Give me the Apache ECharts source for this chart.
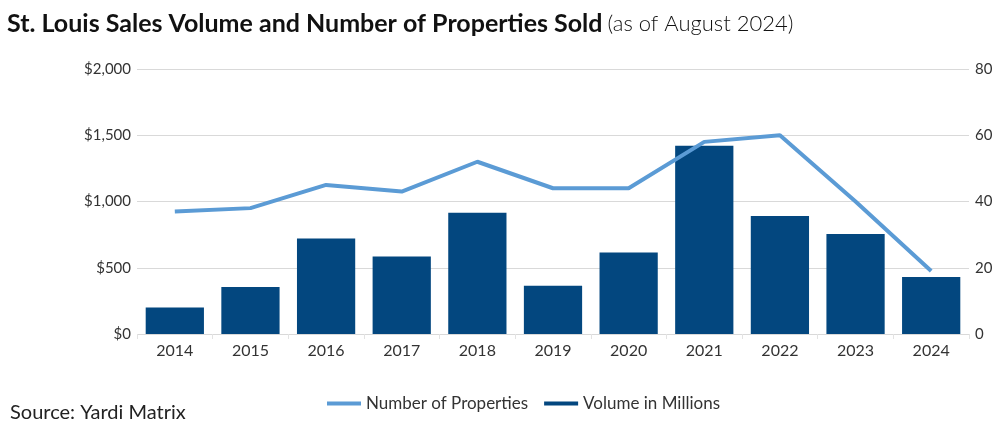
<!DOCTYPE html>
<html>
<head>
<meta charset="utf-8">
<script src="https://cdn.jsdelivr.net/npm/echarts@6/dist/echarts.min.js"></script>
<style>
  html, body { margin: 0; padding: 0; background: #fff; }
  #main { width: 1007px; height: 433px; }
</style>
</head>
<body>
<div id="main"></div>
<script>
var years = ['2014', '2015', '2016', '2017', '2018', '2019', '2020', '2021', '2022', '2023', '2024'];
// sales volume, $ millions
var volume = [200, 355, 720, 585, 915, 365, 615, 1420, 890, 755, 430];
// number of properties sold
var properties = [37, 38, 45, 43, 52, 44, 44, 58, 60, 40, 19];

var chart = echarts.init(document.getElementById('main'));
var font = 'Lato';

var option = {
  animation: false,
  color: ['#5b9bd5', '#03477f'],
  title: {
    left: 2,
    top: 6,
    text: '{b|St. Louis Sales Volume and Number of Properties Sold} {n|(as of August 2024)}',
    textStyle: {
      rich: {
        b: { fontFamily: font, fontWeight: 'bold', fontSize: 25, color: '#111' },
        n: { fontFamily: font, fontWeight: 300, fontSize: 22, color: '#111' }
      }
    }
  },
  graphic: [{
    type: 'text',
    left: 10,
    top: 403,
    style: { text: 'Source: Yardi Matrix', fontFamily: font, fontSize: 20, fill: '#222' }
  }],
  legend: {
    left: 322,
    top: 390,
    icon: 'rect',
    itemWidth: 34,
    itemHeight: 4,
    itemGap: 16,
    textStyle: { fontFamily: font, fontSize: 17, color: '#333' },
    data: ['Number of Properties', 'Volume in Millions']
  },
  grid: { left: 137, right: 38, top: 69, bottom: 99 },
  xAxis: {
    type: 'category',
    data: years,
    axisLine: { show: false },
    axisTick: { show: true, length: 5, lineStyle: { color: '#e3e3e3' } },
    axisLabel: { fontFamily: font, fontSize: 16, color: '#333', margin: 9 }
  },
  yAxis: [{
    type: 'value',
    min: 0,
    max: 2000,
    interval: 500,
    axisLabel: {
      fontFamily: font, fontSize: 15, color: '#333', margin: 6,
      formatter: function (v) { return '$' + v.toLocaleString('en-US'); }
    },
    splitLine: { lineStyle: { color: '#d9d9d9' } }
  }, {
    type: 'value',
    min: 0,
    max: 80,
    interval: 20,
    axisLabel: { fontFamily: font, fontSize: 15, color: '#333', margin: 6 },
    splitLine: { show: false }
  }],
  series: [{
    name: 'Number of Properties',
    type: 'line',
    yAxisIndex: 1,
    data: properties,
    symbol: 'none',
    z: 3,
    lineStyle: { width: 4, color: '#5b9bd5' }
  }, {
    name: 'Volume in Millions',
    type: 'bar',
    yAxisIndex: 0,
    data: volume,
    barCategoryGap: '23%',
    itemStyle: { color: '#03477f' }
  }]
};

chart.setOption(option);
</script>
</body>
</html>
